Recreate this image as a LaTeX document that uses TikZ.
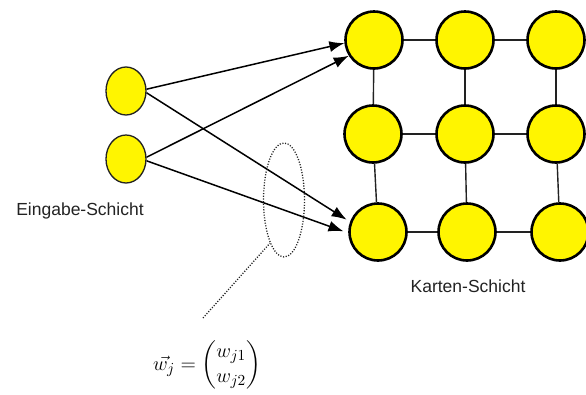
\documentclass[tikz,border=0pt]{standalone}
\usepackage{amsmath}
\usepackage{fontspec}
\setmainfont{Liberation Sans}
\usetikzlibrary{shapes.geometric,arrows.meta}
\definecolor{nodeyellow}{RGB}{255,245,0}
\definecolor{inkgray}{RGB}{34,34,34}
\tikzset{
  mapnode/.style={circle,draw=black,line width=2.6pt,fill=nodeyellow,minimum size=57pt,inner sep=0pt},
  innode/.style={ellipse,draw=inkgray,line width=1.3pt,fill=nodeyellow,minimum width=40pt,minimum height=48pt,inner sep=0pt},
  gridline/.style={draw=inkgray,line width=1.4pt},
  weightarrow/.style={draw=black,line width=1.5pt,-{Latex[length=15pt,width=11pt]}},
  dotline/.style={draw=inkgray,line width=1.3pt,dash pattern=on 1.1pt off 1.6pt},
  labeltext/.style={text=inkgray,font=\fontsize{17.5}{20}\selectfont,inner sep=0pt}
}
\begin{document}
\begin{tikzpicture}[x=1pt,y=-1pt]
\useasboundingbox (0,0) rectangle (586,394);
% Karten-Schicht grid
\node[mapnode] (g00) at (374,40) {};
\node[mapnode] (g01) at (465,40) {};
\node[mapnode] (g02) at (556,40) {};
\node[mapnode] (g10) at (373,134) {};
\node[mapnode] (g11) at (465,134) {};
\node[mapnode] (g12) at (556,134) {};
\node[mapnode] (g20) at (378,232) {};
\node[mapnode] (g21) at (467,232) {};
\node[mapnode] (g22) at (560,232) {};
% grid connections
\draw[gridline] (g00) -- (g01);
\draw[gridline] (g01) -- (g02);
\draw[gridline] (g10) -- (g11);
\draw[gridline] (g11) -- (g12);
\draw[gridline] (g20) -- (g21);
\draw[gridline] (g21) -- (g22);
\draw[gridline] (g00) -- (g10);
\draw[gridline] (g10) -- (g20);
\draw[gridline] (g01) -- (g11);
\draw[gridline] (g11) -- (g21);
\draw[gridline] (g02) -- (g12);
\draw[gridline] (g12) -- (g22);
% input layer
\node[innode] (in1) at (126,91) {};
\node[innode] (in2) at (126,159) {};
% arrows
\draw[weightarrow] (in1.5) -- (g00.186);
\draw[weightarrow] (in2.5) -- (g00.212);
\draw[weightarrow,shorten >=4pt] (in1.-5) -- (g20.160);
\draw[weightarrow,shorten >=5pt] (in2.-5) -- (g20.182);
% selection ellipse and pointer
\node[ellipse,dotline,minimum width=41pt,minimum height=114pt,inner sep=0pt] (sel) at (284,200) {};
\coordinate (ptr) at (203,318);
\draw[dotline] (ptr) -- (sel.252);
% labels
\node[labeltext] (lin) at (80,211) {Eingabe-Schicht};
\node[labeltext] (lmap) at (468,286) {Karten-Schicht};
\node[inner sep=0pt] (wvec) at (207,365)
  {\scalebox{1.4}{\fontsize{15}{18}\selectfont$\vec{w_j} = \begin{pmatrix} w_{j1}\\ w_{j2} \end{pmatrix}$}};
\end{tikzpicture}
\end{document}
